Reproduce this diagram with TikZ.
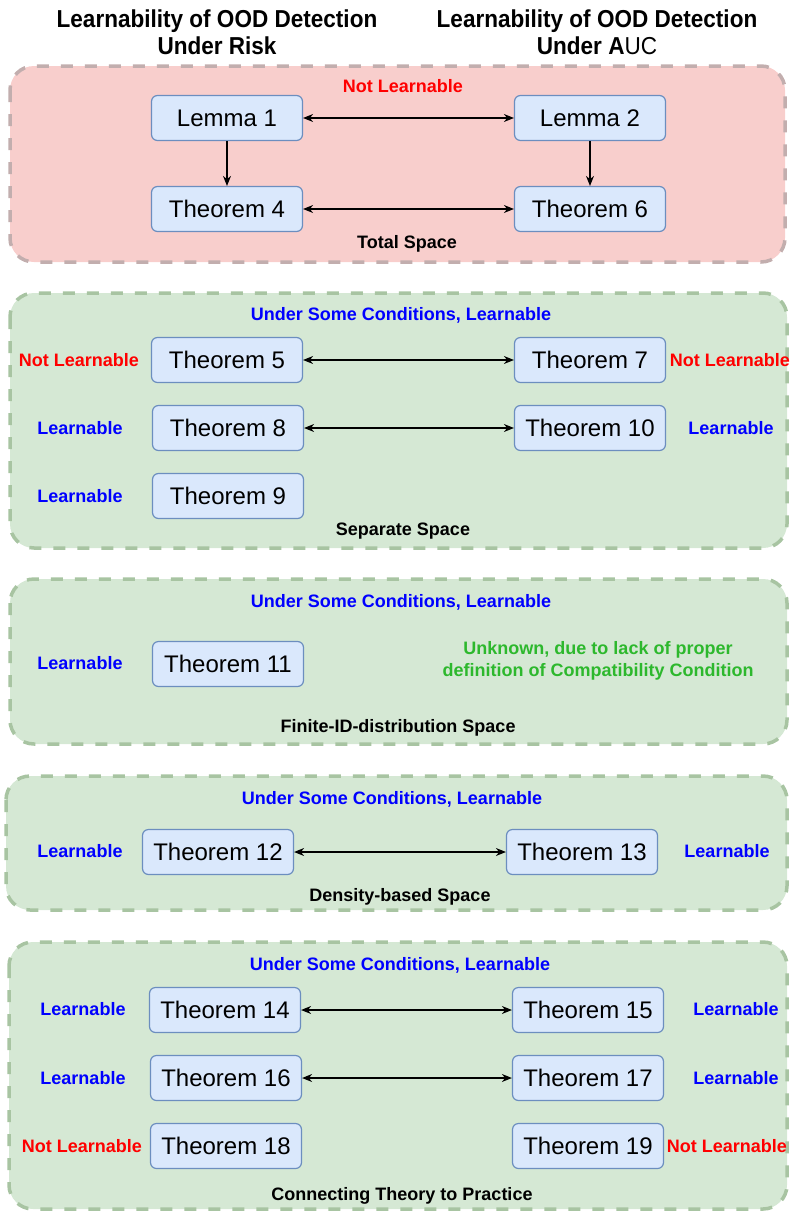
\documentclass[tikz,border=0pt]{standalone}
\usepackage{fontspec}
\setmainfont{Liberation Sans}
\newfontfamily\hdrfont[FakeStretch=0.92]{Liberation Sans}
\usetikzlibrary{arrows.meta}
\definecolor{redfill}{HTML}{F8CECC}
\definecolor{greenfill}{HTML}{D5E8D4}
\definecolor{redborder}{HTML}{C2AEAE}
\definecolor{greenborder}{HTML}{A8C4A2}
\definecolor{boxfill}{HTML}{DAE8FC}
\definecolor{boxdraw}{HTML}{6C8EBF}
\definecolor{txtred}{HTML}{FF0000}
\definecolor{txtblue}{HTML}{0000FF}
\definecolor{txtgreen}{HTML}{2DB82D}
\tikzset{
  panel/.style={line width=3.5pt, dash pattern=on 12pt off 12pt, rounded corners=24pt},
  redpanel/.style={panel, draw=redborder, fill=redfill},
  greenpanel/.style={panel, draw=greenborder, fill=greenfill},
  thm/.style={draw=boxdraw, fill=boxfill, line width=1.2pt, rounded corners=6pt,
    minimum width=151pt, minimum height=45pt, inner sep=0pt,
    font=\fontsize{24}{28}\selectfont},
  lab/.style={font=\bfseries\fontsize{18}{21}\selectfont, inner sep=0pt, anchor=base},
  nl/.style={lab, text=txtred},
  ln/.style={lab, text=txtblue},
  sp/.style={lab, text=black},
  hdr/.style={font=\hdrfont\bfseries\fontsize{24.5}{27}\selectfont, align=center, inner sep=0pt},
  biarrow/.style={line width=1.2pt, {Stealth[length=10pt,width=8pt]}-{Stealth[length=10pt,width=8pt]}},
  onearrow/.style={line width=1.2pt, -{Stealth[length=10pt,width=8pt]}}
}
\begin{document}
\begin{tikzpicture}[x=1pt,y=-1pt]
\useasboundingbox (0,0) rectangle (790,1213);
% headers
\node[hdr] (h1) at (217,32) {Learnability of OOD Detection\\Under Risk};
\node[hdr] (h2) at (597,32) {Learnability of OOD Detection\\Under \textbf{A}{\mdseries UC}};
% panels
\path[redpanel] (10,66) rectangle (785,262);
\path[greenpanel] (10,293) rectangle (787,548);
\path[greenpanel] (10,579) rectangle (787,744);
\path[greenpanel] (6,776) rectangle (787,910);
\path[greenpanel] (9,942) rectangle (787,1209);
% panel 1
\node[nl] (p1t) at (403,92.5) {Not Learnable};
\node[thm] (l1) at (227,118) {Lemma 1};
\node[thm] (l2) at (590,118) {Lemma 2};
\node[thm] (t4) at (227,209) {Theorem 4};
\node[thm] (t6) at (590,209) {Theorem 6};
\node[sp] (p1s) at (407,248.5) {Total Space};
\draw[biarrow] (l1) -- (l2);
\draw[biarrow] (t4) -- (t6);
\draw[onearrow] (l1) -- (t4);
\draw[onearrow] (l2) -- (t6);
% panel 2
\node[ln] (p2t) at (401,320.5) {Under Some Conditions, Learnable};
\node[thm] (t5) at (227,360) {Theorem 5};
\node[thm] (t7) at (590,360) {Theorem 7};
\node[thm] (t8) at (228,428) {Theorem 8};
\node[thm] (t10) at (590,428) {Theorem 10};
\node[thm] (t9) at (228,496) {Theorem 9};
\node[nl] (p2a) at (79,366.5) {Not Learnable};
\node[nl] (p2b) at (730,366.5) {Not Learnable};
\node[ln] (p2c) at (80,434.5) {Learnable};
\node[ln] (p2d) at (731,434.5) {Learnable};
\node[ln] (p2e) at (80,502.5) {Learnable};
\node[sp] (p2s) at (403,535.5) {Separate Space};
\draw[biarrow] (t5) -- (t7);
\draw[biarrow] (t8) -- (t10);
% panel 3
\node[ln] (p3t) at (401,607.5) {Under Some Conditions, Learnable};
\node[thm] (t11) at (228,664) {Theorem 11};
\node[ln] (p3a) at (80,669.5) {Learnable};
\node[text=txtgreen, align=center, inner sep=0pt, font=\bfseries\fontsize{18}{22}\selectfont] (p3g) at (598,661) {Unknown, due to lack of proper\\definition of Compatibility Condition};
\node[sp] (p3s) at (398,732.5) {Finite-ID-distribution Space};
% panel 4
\node[ln] (p4t) at (392,804.5) {Under Some Conditions, Learnable};
\node[thm] (t12) at (218,852) {Theorem 12};
\node[thm] (t13) at (582,852) {Theorem 13};
\node[ln] (p4a) at (80,857.5) {Learnable};
\node[ln] (p4b) at (727,857.5) {Learnable};
\node[sp] (p4s) at (400,901.5) {Density-based Space};
\draw[biarrow] (t12) -- (t13);
% panel 5
\node[ln] (p5t) at (400,970.5) {Under Some Conditions, Learnable};
\node[thm] (t14) at (225,1010) {Theorem 14};
\node[thm] (t15) at (588,1010) {Theorem 15};
\node[thm] (t16) at (226,1078) {Theorem 16};
\node[thm] (t17) at (588,1078) {Theorem 17};
\node[thm] (t18) at (226,1146) {Theorem 18};
\node[thm] (t19) at (588,1146) {Theorem 19};
\node[ln] (p5a) at (83,1015.5) {Learnable};
\node[ln] (p5b) at (736,1015.5) {Learnable};
\node[ln] (p5c) at (83,1084.5) {Learnable};
\node[ln] (p5d) at (736,1084.5) {Learnable};
\node[nl] (p5e) at (82,1152.5) {Not Learnable};
\node[nl] (p5f) at (727,1152.5) {Not Learnable};
\node[sp] (p5s) at (402,1200.5) {Connecting Theory to Practice};
\draw[biarrow] (t14) -- (t15);
\draw[biarrow] (t16) -- (t17);
\end{tikzpicture}
\end{document}
